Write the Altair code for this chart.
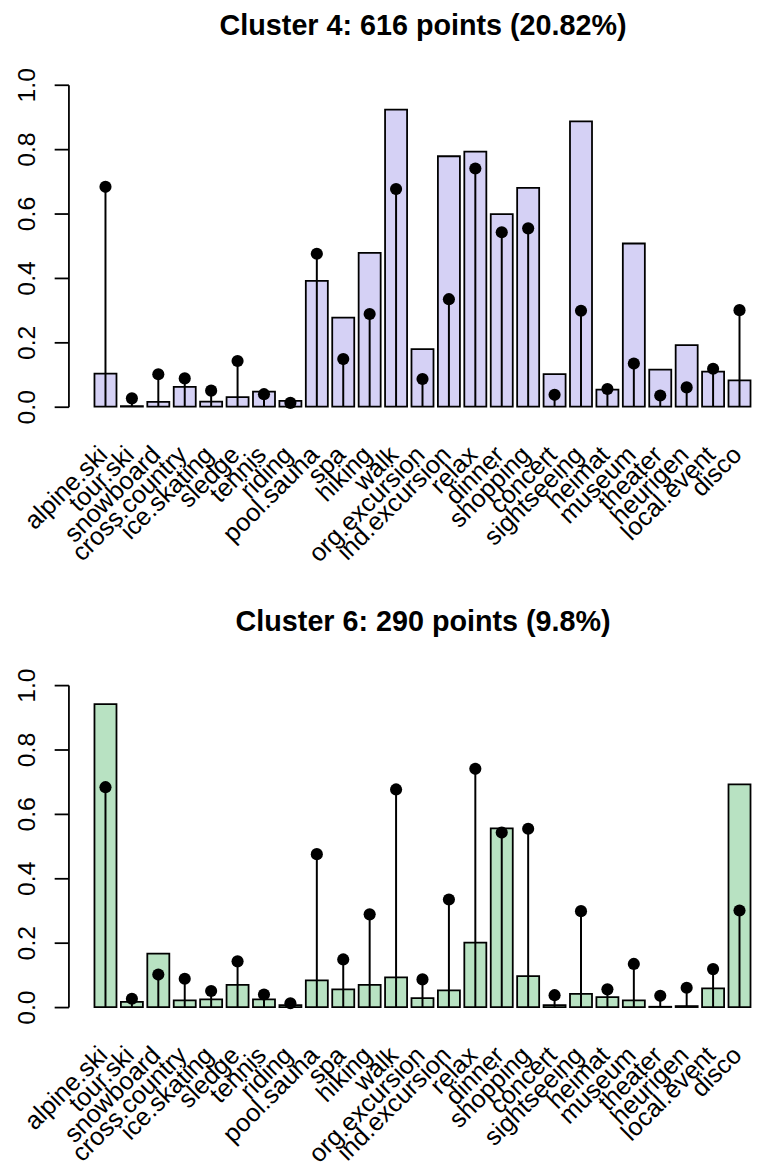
import altair as alt
import pandas as pd

categories = ["alpine.ski", "tour.ski", "snowboard", "cross.country", "ice.skating",
              "sledge", "tennis", "riding", "pool.sauna", "spa", "hiking", "walk",
              "org.excursion", "ind.excursion", "relax", "dinner", "shopping",
              "concert", "sightseeing", "heimat", "museum", "theater", "heurigen",
              "local.event", "disco"]
overall = [0.683, 0.026, 0.101, 0.088, 0.050, 0.142, 0.039, 0.012, 0.475, 0.148,
           0.288, 0.676, 0.086, 0.334, 0.740, 0.542, 0.554, 0.037, 0.298, 0.055,
           0.134, 0.035, 0.060, 0.118, 0.300]
cluster4 = [0.103, 0.002, 0.015, 0.062, 0.016, 0.030, 0.047, 0.018, 0.391, 0.277,
            0.478, 0.923, 0.179, 0.778, 0.792, 0.598, 0.680, 0.101, 0.886, 0.053,
            0.507, 0.115, 0.191, 0.109, 0.082]
cluster6 = [0.941, 0.016, 0.166, 0.021, 0.024, 0.069, 0.024, 0.006, 0.083, 0.055,
            0.069, 0.092, 0.028, 0.052, 0.200, 0.555, 0.096, 0.006, 0.041, 0.031,
            0.021, 0.001, 0.003, 0.058, 0.692]
titles = ["Cluster 4: 616 points (20.82%)", "Cluster 6: 290 points (9.8%)"]
fills = ["#D5D1F5", "#B8E2C2"]

FONT = "Liberation Sans"


def panel(values, fill, title, title_offset):
    df = pd.DataFrame({"item": categories, "cluster": values, "overall": overall})
    xaxis = alt.Axis(labelAngle=-45, labelAlign="right", labelBaseline="middle",
                     labelFontSize=25.5, labelFont=FONT, labelColor="black",
                     labelPadding=44, labelOffset=-2, tickSize=0, domain=False,
                     grid=False, labelOverlap=False, labelLimit=0)
    xscale = alt.Scale(paddingInner=1 / 6, paddingOuter=0.521, align=0.946)
    yaxis = alt.Axis(values=[0, 0.2, 0.4, 0.6, 0.8, 1.0], format=".1f",
                     labelAngle=-90, labelAlign="center",
                     labelBaseline="alphabetic", labelFontSize=25,
                     labelFont=FONT, labelColor="black", labelPadding=20,
                     tickSize=14.4, tickColor="black", tickWidth=1.8,
                     domainColor="black", domainWidth=1.8, grid=False)
    yscale = alt.Scale(domain=[0, 1], nice=False, zero=True)
    x = alt.X("item:N", sort=categories, title=None, scale=xscale, axis=xaxis)
    bars = alt.Chart(df).mark_bar(fill=fill, stroke="black", strokeWidth=1.8).encode(
        x=x,
        y=alt.Y("cluster:Q", scale=yscale, title=None, axis=yaxis),
    )
    rules = alt.Chart(df).mark_rule(color="black", strokeWidth=2).encode(
        x=x,
        y=alt.Y("overall:Q", scale=yscale, title=None, axis=yaxis),
        y2=alt.datum(0),
    )
    dots = alt.Chart(df).mark_circle(color="black", opacity=1, size=150).encode(
        x=x,
        y=alt.Y("overall:Q", scale=yscale, title=None, axis=yaxis),
    )
    return alt.layer(bars, rules, dots).properties(
        width=690, height=325,
        title=alt.Title(title, fontSize=29, fontWeight="bold", font=FONT,
                        color="black", anchor="middle", frame="group",
                        baseline="alphabetic", offset=title_offset, dx=13),
    )


chart = alt.vconcat(
    panel(cluster4, fills[0], titles[0], 4),
    panel(cluster6, fills[1], titles[1], 8),
    spacing=41,
).properties(
    padding={"left": 6, "top": -2, "right": 0, "bottom": 0},
).configure_view(stroke=None)

chart.save("out.html", embed_options={"renderer": "svg", "actions": False})
